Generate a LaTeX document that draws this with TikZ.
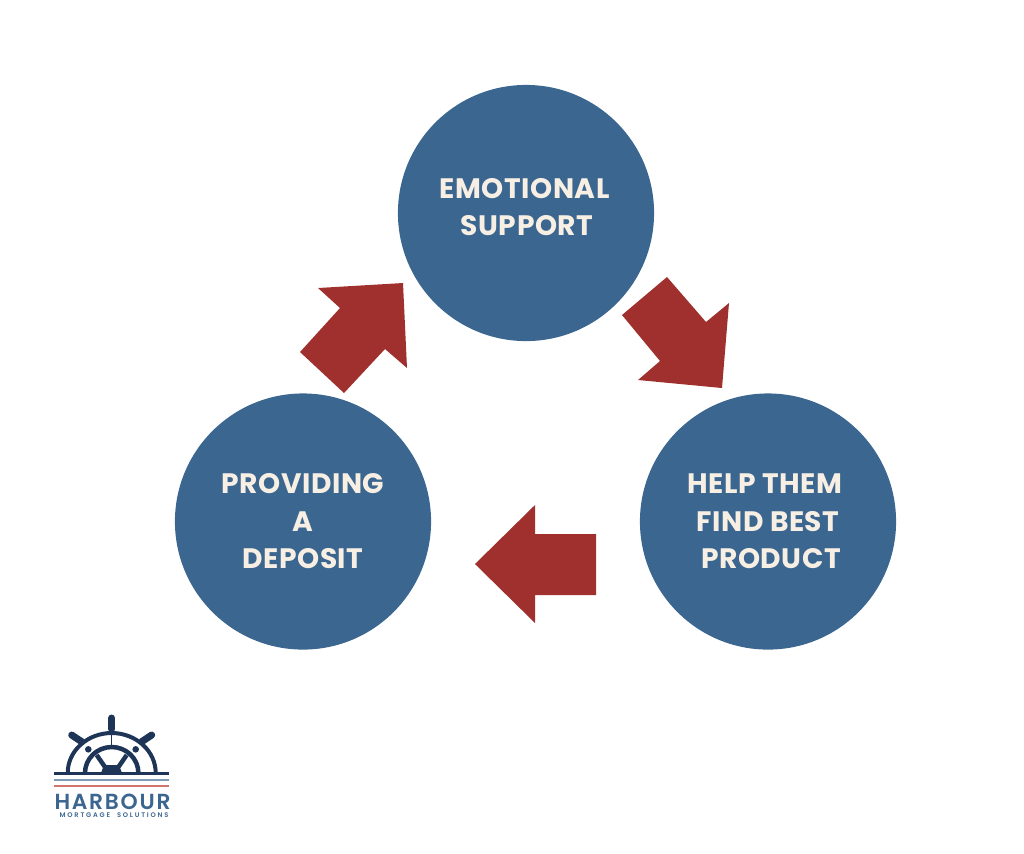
\documentclass[tikz,border=0pt]{standalone}
\usepackage{fontspec}
\setmainfont{Poppins}[BoldFont={* Bold}]
\newfontfamily\labelfont{Poppins}[UprightFont={* Bold},LetterSpace=2]
\newfontfamily\logofont{Poppins}[UprightFont={* SemiBold},LetterSpace=8]
\newfontfamily\tagfont{Poppins}[UprightFont={* SemiBold},LetterSpace=27,WordSpace=2]
\definecolor{harbourblue}{HTML}{3B668F}
\definecolor{harbourred}{HTML}{A0302E}
\definecolor{harbourcream}{HTML}{F8EFE4}
\definecolor{harbournavy}{HTML}{1F3557}
\definecolor{harbourgrey}{HTML}{7F9BB3}
\definecolor{harbourpink}{HTML}{D0766C}
\tikzset{
  stage/.style={circle, fill=harbourblue, text=harbourcream, minimum size=2.56cm, inner sep=0pt, align=center, font=\labelfont\fontsize{8}{10.65}\selectfont},
  stagetext/.style={text=harbourcream, inner sep=0pt, align=center, font=\labelfont\fontsize{8}{10.65}\selectfont},
  bigarrow/.style={fill=harbourred},
  wheelline/.style={draw=harbournavy, line width=0.04cm},
  wheelspoke/.style={draw=harbournavy, line width=0.045cm},
  wheelgrip/.style={draw=harbournavy, line width=0.07cm, line cap=round},
}
\begin{document}
\begin{tikzpicture}[x=0.01cm, y=-0.01cm]
\useasboundingbox (0,0) rectangle (1024,853);
% Circles
\node[stage] (support) at (526,213) {};
\node[stagetext] (supporttext) at (524.5,207) {EMOTIONAL\\\hspace*{0.05cm}SUPPORT};
\node[stage] (product) at (768,521.5) {HELP THEM\hspace*{0.06cm}\\FIND BEST\\\hspace*{0.06cm}PRODUCT};
\node[stage] (deposit) at (303,521.5) {PROVIDING\\A\\DEPOSIT};

% Arrows
\fill[bigarrow] (318,288) -- (403,283) -- (407,368) -- (385,349) -- (344,393) -- (300,352) -- (340,308) -- cycle;
\fill[bigarrow] (667,277) -- (706,322) -- (729,303) -- (722,388) -- (638,380) -- (660,361) -- (622,315) -- cycle;
\fill[bigarrow] (475,564) -- (535,505) -- (535,534) -- (596,534) -- (596,595) -- (535,595) -- (535,623) -- cycle;

% Logo
\draw[wheelline] (67.7,773) arc (180:360:44 and 40);
\draw[wheelspoke] (85,773) arc (180:360:26.7 and 26);
\draw[wheelgrip] (111.7,718) -- (111.7,729);
\draw[harbournavy, line width=0.01cm] (111.7,729) -- (111.7,747);
\draw[wheelgrip] (71.7,735) -- (81.7,741.7);
\draw[wheelgrip] (151.7,735) -- (141.7,741.7);
\fill[harbournavy] (88.3,749.3) circle (3.3);
\fill[harbournavy] (135.7,749.3) circle (3.3);
\draw[wheelspoke] (105,767) -- (96.7,755);
\draw[wheelspoke] (118.4,767) -- (126.7,755);
\fill[harbournavy] (101,773) -- (122,773) -- (119,765) -- (104,765) -- cycle;
\fill[harbournavy] (54,771.5) rectangle (169,774.5);
\fill[harbourgrey] (54,779) rectangle (169,781);
\fill[harbourpink] (54,785) rectangle (169,787);
\node[text=harbourblue, font=\logofont\fontsize{6.2}{7}\selectfont, inner sep=0pt] (logoname) at (112.5,801.5) {HARBOUR};
\node[text=harbourblue, font=\tagfont\fontsize{1.9}{2}\selectfont, inner sep=0pt] (logotag) at (114,815.5) {MORTGAGE SOLUTIONS};
\end{tikzpicture}
\end{document}
